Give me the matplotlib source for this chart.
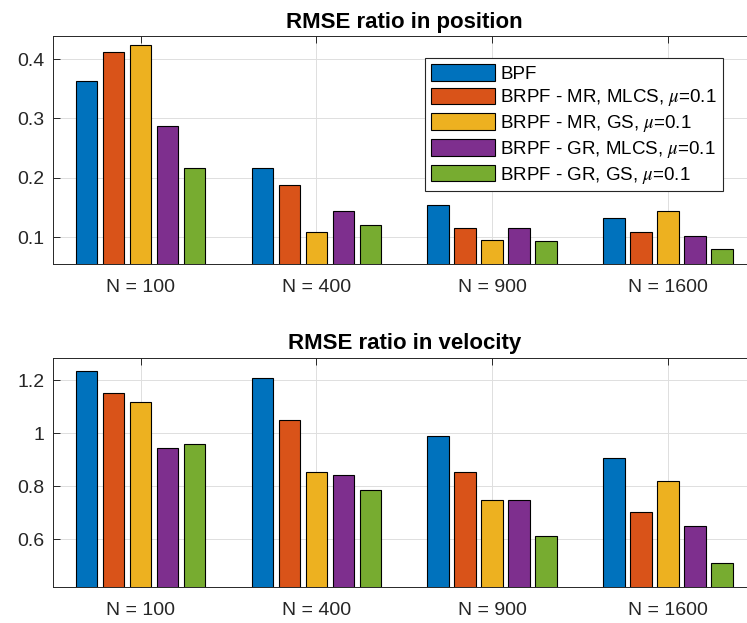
import numpy as np
import matplotlib
matplotlib.use('Agg')
import matplotlib.pyplot as plt

plt.rcParams['font.family'] = ['Liberation Sans', 'DejaVu Sans']
plt.rcParams['mathtext.fontset'] = 'stix'

groups = ['N = 100', 'N = 400', 'N = 900', 'N = 1600']
labels = ['BPF',
          r'BRPF - MR, MLCS, $\mu$=0.1',
          r'BRPF - MR, GS, $\mu$=0.1',
          r'BRPF - GR, MLCS, $\mu$=0.1',
          r'BRPF - GR, GS, $\mu$=0.1']
colors = ['#0072BD', '#D95319', '#EDB120', '#7E2F8E', '#77AC30']

# rows = groups, cols = methods
pos_ratio = [[0.363, 0.412, 0.423, 0.287, 0.217],
             [0.217, 0.187, 0.109, 0.144, 0.121],
             [0.154, 0.115, 0.095, 0.116, 0.094],
             [0.132, 0.109, 0.144, 0.101, 0.080]]
vel_ratio = [[1.234, 1.153, 1.119, 0.945, 0.960],
             [1.207, 1.050, 0.852, 0.841, 0.785],
             [0.989, 0.852, 0.747, 0.747, 0.614],
             [0.907, 0.704, 0.818, 0.650, 0.512]]

pos_ylim = (0.055, 0.439)
vel_ylim = (0.421, 1.285)
pos_yticks = [0.1, 0.2, 0.3, 0.4]
vel_yticks = [0.6, 0.8, 1.0, 1.2]
vel_yticklabels = ['0.6', '0.8', '1', '1.2']

TXT = '#262626'


def draw(ax, data, ylim, yticks, yticklabels, title):
    data = np.array(data)
    x = np.arange(1, len(groups) + 1)
    step = 0.1536
    width = 0.123
    bars = []
    for i in range(data.shape[1]):
        b = ax.bar(x + (i - 2) * step, data[:, i], width=width, bottom=0,
                   color=colors[i], edgecolor='black', linewidth=0.8, zorder=3)
        bars.append(b)
    ax.set_xlim(0.5, 4.5)
    ax.set_ylim(*ylim)
    ax.set_xticks(x)
    ax.set_xticklabels(groups)
    ax.set_yticks(yticks)
    ax.set_yticklabels(yticklabels)
    ax.grid(True, color='#dedede', linewidth=0.7, zorder=0)
    ax.set_axisbelow(True)
    ax.tick_params(direction='in', length=5, width=0.7, colors=TXT,
                   labelsize=14, top=True, right=True)
    ax.tick_params(axis='x', pad=11)
    ax.tick_params(axis='y', pad=6)
    for s in ax.spines.values():
        s.set_color(TXT)
        s.set_linewidth(0.7)
    ax.set_title(title, fontsize=16, fontweight='bold', pad=6)
    return bars


fig = plt.figure(figsize=(7.47, 6.23), dpi=100)
ax1 = fig.add_axes([0.0705, 0.5767, 0.9415, 0.3655])
ax2 = fig.add_axes([0.0705, 0.0583, 0.9415, 0.3676])

bars = draw(ax1, pos_ratio, pos_ylim, pos_yticks,
            [str(t) for t in pos_yticks], 'RMSE ratio in position')
draw(ax2, vel_ratio, vel_ylim, vel_yticks, vel_yticklabels,
     'RMSE ratio in velocity')

leg = ax1.legend(bars, labels, loc='upper left', bbox_to_anchor=(0.530, 0.902),
                 borderaxespad=0, fontsize=13.5, handlelength=3.4,
                 handleheight=1.0, handletextpad=0.3, labelspacing=0.25,
                 borderpad=0.3, fancybox=False, framealpha=1)
leg.get_frame().set_edgecolor(TXT)
leg.get_frame().set_linewidth(0.8)

fig.savefig('out.png', dpi=100)
